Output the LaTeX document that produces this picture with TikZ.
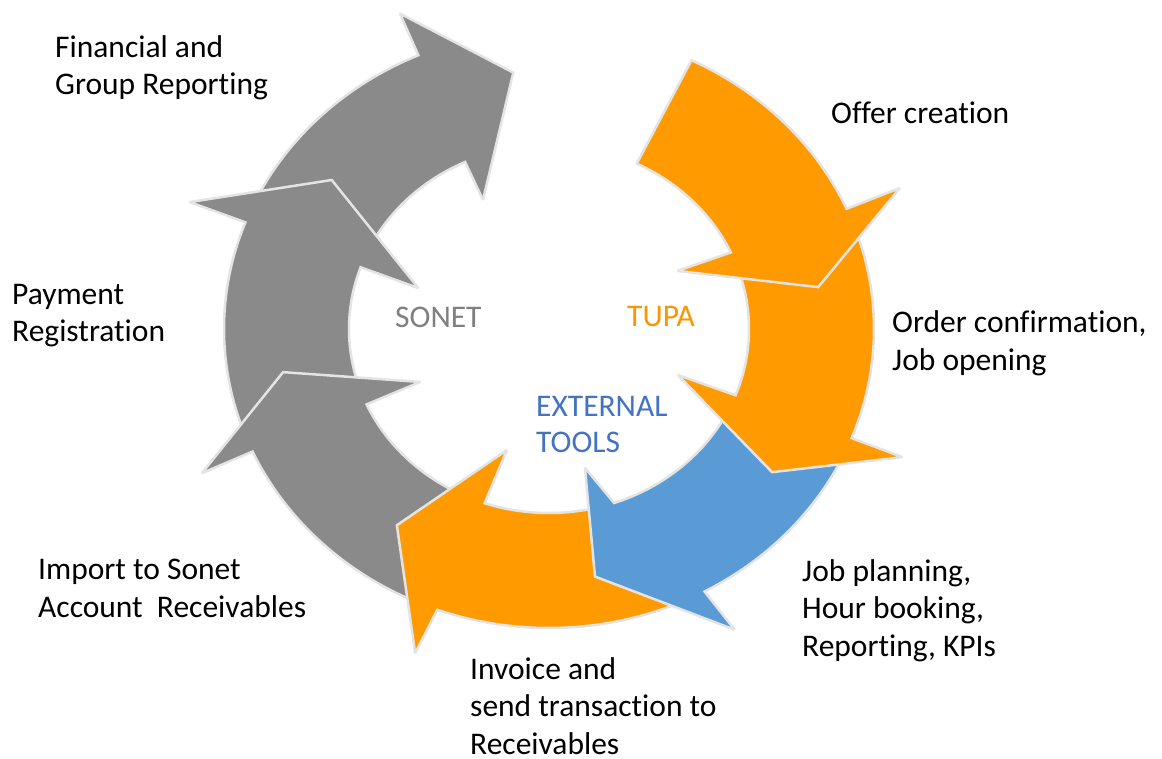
\documentclass[tikz,border=0pt]{standalone}
\usepackage{fontspec}
\setmainfont{Carlito}[Ligatures=NoCommon]
\definecolor{arrgray}{RGB}{138,138,138}
\definecolor{arrorange}{RGB}{255,155,0}
\definecolor{arrblue}{RGB}{91,155,213}
\definecolor{edgegray}{RGB}{228,228,228}
\definecolor{sonetgray}{RGB}{128,128,128}
\definecolor{tupaorange}{RGB}{250,150,0}
\definecolor{extblue}{RGB}{68,114,196}
\begin{document}
\begin{tikzpicture}[x=1pt,y=1pt,
  cyc/.style={draw=edgegray, line width=2.5pt, line join=miter, miter limit=3},
  lbl/.style={anchor=west, align=left, font=\fontsize{31.5}{37.5}\selectfont, inner sep=0pt},
  mid/.style={align=left, font=\fontsize{31.5}{36}\selectfont, inner sep=0pt}]
\useasboundingbox (-549,-429) rectangle (613,329);
\begin{scope}[yscale=0.92]
 % Financial and Group Reporting (gray, top)
 \path[cyc, fill=arrgray] (155:325pt) arc[start angle=155, end angle=113.7, radius=325pt]
   -- (113.5:374pt) -- (97.3:281pt) -- (115.2:155pt) -- (114.8:200pt)
   arc[start angle=114.8, end angle=155, radius=200pt] -- cycle;
 % Payment registration (gray, left upper)
 \path[cyc, fill=arrgray] (200:325pt) arc[start angle=200, end angle=159.1, radius=325pt]
   -- (159:385pt) -- (143.3:271pt) -- (161.2:138pt) -- (160.4:200pt)
   arc[start angle=160.4, end angle=200, radius=200pt] -- cycle;
 % Import to Sonet (gray, left lower)
 \path[cyc, fill=arrgray] (245:325pt) arc[start angle=245, end angle=204.2, radius=325pt]
   -- (204.3:381pt) -- (190:270pt) -- (204.1:141pt) -- (204.2:200pt)
   arc[start angle=204.2, end angle=245, radius=200pt] -- cycle;
 % Invoice (orange, bottom)
 \path[cyc, fill=arrorange] (-66:325pt) arc[start angle=-66, end angle=-110.1, radius=325pt]
   -- (-110.8:377pt) -- (-125.5:262pt) -- (-107.7:138pt) -- (-108.8:200pt)
   arc[start angle=-108.8, end angle=-66, radius=200pt] -- cycle;
 % Job planning (blue)
 \path[cyc, fill=arrblue] (-26:325pt) arc[start angle=-26, end angle=-61.4, radius=325pt]
   -- (-60.4:376pt) -- (-80.3:273pt) -- (-76.6:155pt) -- (-71:200pt)
   arc[start angle=-71, end angle=-26, radius=200pt] -- cycle;
 % Order confirmation (orange, right)
 \path[cyc, fill=arrorange] (19:325pt) arc[start angle=19, end angle=-21.4, radius=325pt]
   -- (-21.5:380pt) -- (-34.9:272pt) -- (-21.2:138pt) -- (-21.1:200pt)
   arc[start angle=-21.1, end angle=19, radius=200pt] -- cycle;
 % Offer creation (orange, top right)
 \path[cyc, fill=arrorange] (64:325pt) arc[start angle=64, end angle=23.7, radius=325pt]
   -- (23.6:383pt) -- (9.6:273pt) -- (26.2:143pt) -- (24.6:200pt)
   arc[start angle=24.6, end angle=64, radius=200pt] -- cycle;
\end{scope}
% outer labels
\node[lbl] (fin) at (-494,261) {Financial and\\Group Reporting};
\node[lbl] (offer) at (282,216) {Offer creation};
\node[lbl] (order) at (343,-14.5) {Order confirmation,\\Job opening};
\node[lbl] (job) at (253,-281.5) {Job planning,\\Hour booking,\\Reporting, KPIs};
\node[lbl] (inv) at (-79,-377) {Invoice and\\send transaction to\\Receivables};
\node[lbl] (imp) at (-511,-259.5) {Import to Sonet\\Account~ Receivables};
\node[lbl] (pay) at (-537,13.5) {Payment\\Registration};
% centre labels
\node[mid, anchor=west, text=sonetgray] (sonet) at (-154,12) {SONET};
\node[mid, anchor=west, text=tupaorange] (tupa) at (78,12) {TUPA};
\node[mid, anchor=west, text=extblue] (ext) at (-13,-95) {EXTERNAL\\TOOLS};
\end{tikzpicture}
\end{document}
